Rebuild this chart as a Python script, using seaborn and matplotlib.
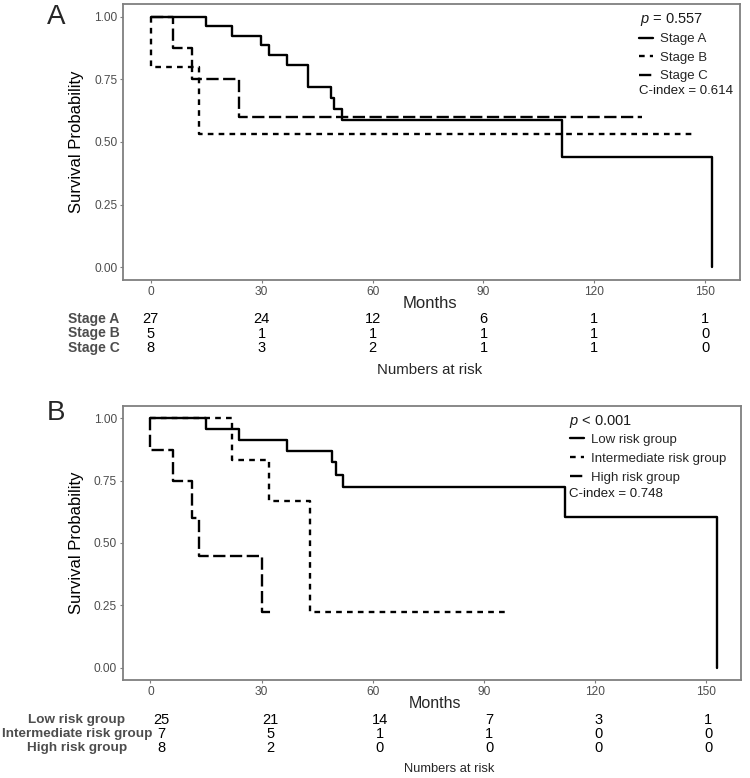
import numpy as np
import pandas as pd
import matplotlib
matplotlib.use("Agg")
import matplotlib.pyplot as plt
from matplotlib import transforms
import seaborn as sns

# ---------------- data ----------------
stageA_time = [0, 15.0, 22.0, 29.9, 32.0, 36.9, 42.6, 48.8, 49.6, 51.8, 111.2, 151.7]
stageA_surv = [1.0, 0.961, 0.923, 0.886, 0.847, 0.805, 0.720, 0.675, 0.630, 0.586, 0.442, 0.0]
stageB_time = [0, 0, 13.1, 147.2]
stageB_surv = [1.0, 0.80, 0.533, 0.533]
stageC_time = [0, 6.1, 11.1, 24.0, 133.0]
stageC_surv = [1.0, 0.875, 0.75, 0.60, 0.60]

low_time = [0, 15.0, 23.9, 36.9, 48.9, 50.0, 52.1, 112.0, 153.0]
low_surv = [1.0, 0.956, 0.914, 0.870, 0.823, 0.774, 0.725, 0.605, 0.0]
inter_time = [0, 22.0, 32.0, 43.0, 96.0]
inter_surv = [1.0, 0.833, 0.667, 0.221, 0.221]
high_time = [0, 0, 6.0, 11.1, 13.1, 30.0, 33.0]
high_surv = [1.0, 0.873, 0.75, 0.598, 0.449, 0.224, 0.224]

groupsA = ["Stage A", "Stage B", "Stage C"]
groupsB = ["Low risk group", "Intermediate risk group", "High risk group"]

risk_times = [0, 30, 60, 90, 120, 150]
riskA_stageA = [27, 24, 12, 6, 1, 1]
riskA_stageB = [5, 1, 1, 1, 1, 0]
riskA_stageC = [8, 3, 2, 1, 1, 0]
riskB_low = [25, 21, 14, 7, 3, 1]
riskB_inter = [7, 5, 1, 1, 0, 0]
riskB_high = [8, 2, 0, 0, 0, 0]

x_ticks = [0, 30, 60, 90, 120, 150]
y_ticks = [0.00, 0.25, 0.50, 0.75, 1.00]
y_ticklabels = ["0.00", "0.25", "0.50", "0.75", "1.00"]

pA_text = r"$p$ = 0.557"
cA_text = "C-index = 0.614"
pB_text = r"$p$ < 0.001"
cB_text = "C-index = 0.748"

# ---------------- style ----------------
sns.set_theme(style="white")
plt.rcParams["font.family"] = ["Liberation Sans", "DejaVu Sans"]
plt.rcParams["mathtext.fontset"] = "custom"
plt.rcParams["mathtext.it"] = "Liberation Sans:italic"
plt.rcParams["mathtext.rm"] = "Liberation Sans"

W, H = 750, 778
fig = plt.figure(figsize=(W / 100, H / 100), dpi=100)
fig.patch.set_facecolor("white")


def fx(px):
    return px / W


def fy(py):
    return 1 - py / H


def rect(l, t, r, b):
    return [fx(l), fy(b), fx(r) - fx(l), (b - t) / H]


XLIM = (-7.5, 159.4)
YLIM = (-0.05, 1.05)
GREY_TXT = "#4D4D4D"
FRAME = "#7F7F7F"

dot_dash = (2.4, 2.2)
long_dash = (5.2, 1.9)


def make_df(times_list, surv_list, names):
    rows = []
    for t, s, n in zip(times_list, surv_list, names):
        for ti, si in zip(t, s):
            rows.append((ti, si, n))
    return pd.DataFrame(rows, columns=["time", "surv", "group"])


def style_axes(ax):
    ax.set_xlim(*XLIM)
    ax.set_ylim(*YLIM)
    ax.set_xticks(x_ticks)
    ax.set_yticks(y_ticks)
    ax.set_yticklabels(y_ticklabels)
    ax.set_xlabel("")
    ax.set_ylabel("")
    ax.tick_params(axis="both", labelsize=8.6, labelcolor=GREY_TXT, colors=FRAME,
                   length=2.2, width=0.8, pad=2.0, bottom=True, left=True)
    for sp in ax.spines.values():
        sp.set_visible(True)
        sp.set_color(FRAME)
        sp.set_linewidth(1.3)
    ax.set_facecolor("white")


def km_panel(ax, df, names, dash_map, p_text, c_text, leg_x, leg_y, p_xy, c_xy, lab_sp):
    sns.lineplot(data=df, x="time", y="surv", style="group", style_order=names,
                 dashes=dash_map, color="black", linewidth=1.7,
                 drawstyle="steps-post", estimator=None, sort=False,
                 legend=False, ax=ax)
    style_axes(ax)
    handles = ax.get_lines()[:3]
    ax.legend(handles, names, loc="upper left", bbox_to_anchor=(leg_x, leg_y),
              frameon=False, fontsize=9.5, handlelength=1.05, handletextpad=0.55,
              borderpad=0, borderaxespad=0, labelspacing=lab_sp)
    ax.text(p_xy[0], p_xy[1], p_text, transform=ax.transAxes, fontsize=10.5,
            ha="left", va="center", color="#1A1A1A")
    ax.text(c_xy[0], c_xy[1], c_text, transform=ax.transAxes, fontsize=9.5,
            ha="left", va="center", color="#1A1A1A")
    ax.text(-0.075, 0.5, "Survival Probability", transform=ax.transAxes,
            rotation=90, ha="center", va="center", fontsize=12, color="black")


def risk_table(tax, names, counts, label_x, label_ha, label_size):
    tax.set_xlim(*XLIM)
    tax.set_ylim(2.5, -0.5)
    tax.axis("off")
    tr = transforms.blended_transform_factory(fig.transFigure, tax.transData)
    for i, (n, vals) in enumerate(zip(names, counts)):
        for t, v in zip(risk_times, vals):
            tax.text(t, i, str(v), ha="center", va="center", fontsize=10.5,
                     color="black")
        tax.text(label_x, i, n, transform=tr, ha=label_ha, va="center",
                 fontsize=label_size, fontweight="bold", color=GREY_TXT)


# ---------------- panel A ----------------
axA = fig.add_axes(rect(123, 4, 740, 280))
dfA = make_df([stageA_time, stageB_time, stageC_time],
              [stageA_surv, stageB_surv, stageC_surv], groupsA)
km_panel(axA, dfA, groupsA,
         {"Stage A": "", "Stage B": dot_dash, "Stage C": long_dash},
         pA_text, cA_text,
         leg_x=(639 - 123) / 617, leg_y=1 - (33 - 4) / 276,
         p_xy=((640 - 123) / 617, 1 - (20 - 4) / 276),
         c_xy=((639 - 123) / 617, 1 - (91 - 4) / 276), lab_sp=0.48)

tabA = fig.add_axes(rect(123, 312.2, 740, 354.8))
risk_table(tabA, groupsA, [riskA_stageA, riskA_stageB, riskA_stageC],
           fx(119.5), "right", 10)

fig.text(fx(430), fy(303.5), "Months", ha="center", va="center", fontsize=12)
fig.text(fx(430), fy(369.5), "Numbers at risk", ha="center", va="center", fontsize=10.8)
fig.text(fx(56), fy(17), "A", ha="center", va="center", fontsize=20)

# ---------------- panel B ----------------
axB = fig.add_axes(rect(122.7, 405.7, 741, 680))
dfB = make_df([low_time, inter_time, high_time],
              [low_surv, inter_surv, high_surv], groupsB)
km_panel(axB, dfB, groupsB,
         {"Low risk group": "", "Intermediate risk group": dot_dash,
          "High risk group": long_dash},
         pB_text, cB_text,
         leg_x=(570 - 122.7) / 618.3, leg_y=1 - (433.5 - 405.7) / 274.3,
         p_xy=((569.3 - 122.7) / 618.3, 1 - (421.7 - 405.7) / 274.3),
         c_xy=((569.3 - 122.7) / 618.3, 1 - (494 - 405.7) / 274.3), lab_sp=0.52)

tabB = fig.add_axes(rect(133.6, 713.1, 742.3, 754.6))
risk_table(tabB, groupsB, [riskB_low, riskB_inter, riskB_high],
           fx(77), "center", 9.7)

fig.text(fx(434.5), fy(703.5), "Months", ha="center", va="center", fontsize=11.5)
fig.text(fx(449), fy(769.5), "Numbers at risk", ha="center", va="center", fontsize=9.3)
fig.text(fx(56), fy(413), "B", ha="center", va="center", fontsize=20)

fig.savefig("out.png", dpi=100, facecolor="white")
